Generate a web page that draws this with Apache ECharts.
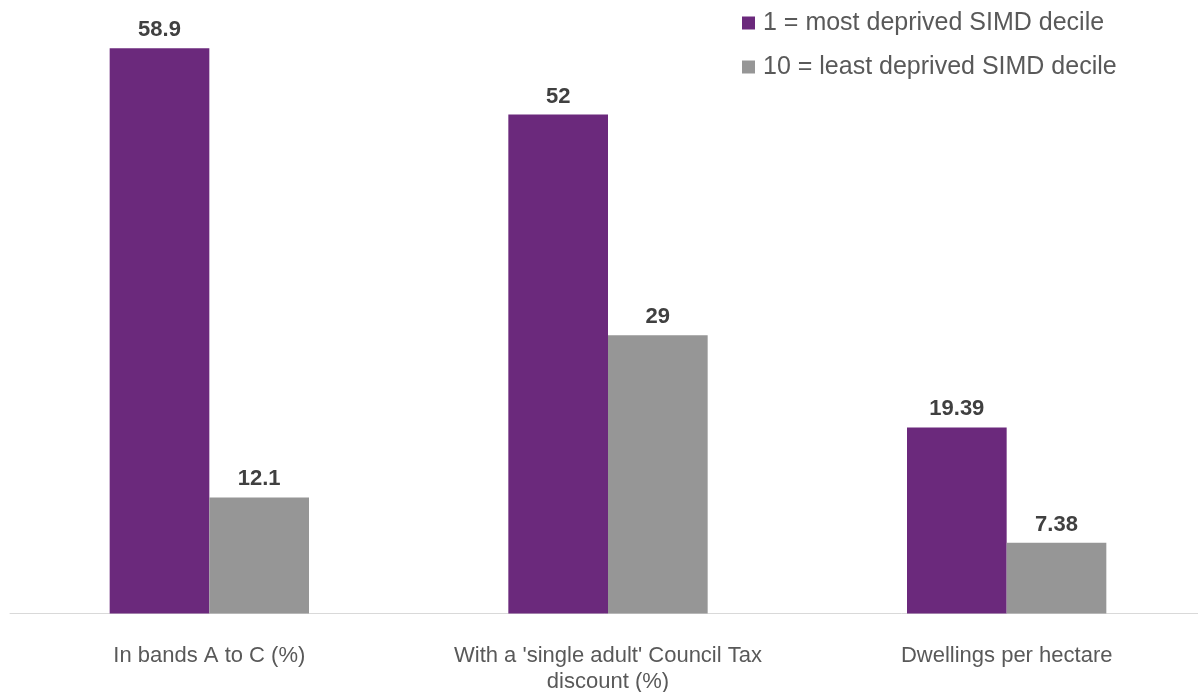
<!DOCTYPE html>
<html>
<head>
<meta charset="utf-8">
<script src="https://cdn.jsdelivr.net/npm/echarts@6/dist/echarts.min.js"></script>
<style>html,body{margin:0;padding:0;background:#fff}#c{width:1198px;height:692px}</style>
</head>
<body>
<div id="c"></div>
<script>
const categories = ["In bands A to C (%)", "With a 'single adult' Council Tax\ndiscount (%)", "Dwellings per hectare"];
const seriesNames = ["1 = most deprived SIMD decile", "10 = least deprived SIMD decile"];
const mostDeprived = [58.9, 52, 19.39];
const leastDeprived = [12.1, 29, 7.38];
const colors = ["#6B297C", "#969696"];

const chart = echarts.init(document.getElementById('c'));
const labelStyle = {show: true, position: 'top', distance: 7, fontFamily: 'Liberation Sans, Arial', fontWeight: 'bold', fontSize: 22, color: '#404040'};
chart.setOption({
  animation: false,
  textStyle: {fontFamily: 'Liberation Sans, Arial'},
  legend: {
    orient: 'vertical', left: 737, top: 5.5, itemWidth: 13, itemHeight: 13, itemGap: 19,
    icon: 'rect',
    textStyle: {fontSize: 25, color: '#595959', fontFamily: 'Liberation Sans, Arial', padding: [0,0,0,3]},
    data: seriesNames
  },
  grid: {left: 10, width: 1196, top: 37.7, bottom: 78.5, containLabel: false, outerBoundsMode: 'none'},
  xAxis: {
    type: 'category', data: categories,
    axisLine: {lineStyle: {color: '#d9d9d9', width: 1}},
    axisTick: {show: false},
    axisLabel: {interval: 0, hideOverlap: false, fontSize: 22, color: '#595959', margin: 29, lineHeight: 26, fontFamily: 'Liberation Sans, Arial'}
  },
  yAxis: {type: 'value', min: 0, max: 60, show: false, splitLine: {show: false}},
  series: [
    {name: seriesNames[0], type: 'bar', data: mostDeprived, barGap: '0%', barCategoryGap: '50%', itemStyle: {color: colors[0]}, label: labelStyle},
    {name: seriesNames[1], type: 'bar', data: leastDeprived, itemStyle: {color: colors[1]}, label: labelStyle}
  ]
});
</script>
</body>
</html>
